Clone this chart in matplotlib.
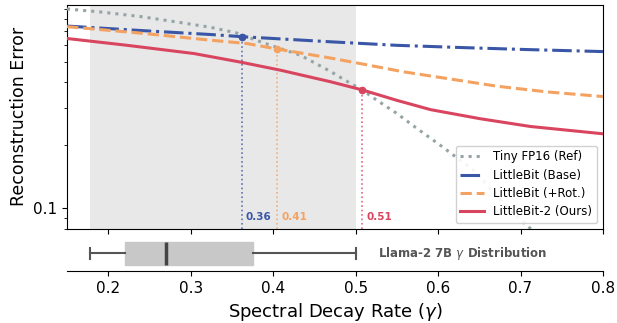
import matplotlib
matplotlib.use("Agg")
import matplotlib.pyplot as plt
from matplotlib.ticker import FuncFormatter, NullFormatter

# ---- data ----
tiny_gamma = [0.15, 0.19, 0.239, 0.285, 0.324, 0.356, 0.388, 0.433, 0.469, 0.494, 0.508,
              0.526, 0.55, 0.573, 0.591, 0.605, 0.643, 0.691, 0.712, 0.75]
tiny_err = [0.897, 0.868, 0.825, 0.775, 0.733, 0.688, 0.618, 0.539, 0.452, 0.395, 0.368,
            0.328, 0.284, 0.243, 0.216, 0.197, 0.152, 0.0946, 0.080, 0.060]

base_gamma = [0.15, 0.243, 0.324, 0.362, 0.469, 0.55, 0.631, 0.712, 0.80]
base_err = [0.743, 0.706, 0.677, 0.661, 0.625, 0.601, 0.586, 0.573, 0.561]

rot_gamma = [0.15, 0.243, 0.324, 0.368, 0.405, 0.469, 0.51, 0.558, 0.611, 0.672, 0.732, 0.80]
rot_err = [0.738, 0.685, 0.636, 0.613, 0.577, 0.523, 0.488, 0.449, 0.417, 0.383, 0.36, 0.342]

ours_gamma = [0.15, 0.223, 0.304, 0.36, 0.409, 0.469, 0.508, 0.55, 0.591, 0.651, 0.712, 0.80]
ours_err = [0.648, 0.601, 0.549, 0.50, 0.457, 0.403, 0.368, 0.328, 0.296, 0.268, 0.246, 0.227]

cross_gamma = [0.362, 0.405, 0.508]
cross_err = [0.661, 0.577, 0.368]
cross_labels = ["0.36", "0.41", "0.51"]

# Llama-2 7B gamma distribution (box stats)
box_stats = dict(whislo=0.178, q1=0.22, med=0.27, q3=0.375, whishi=0.5)

c_gray = "#95a5a6"
c_blue = "#3a56a6"
c_orange = "#f4a261"
c_red = "#d9455f"

fig = plt.figure(figsize=(6.17, 3.23), dpi=100)
ax = fig.add_axes([0.1086, 0.291, 0.9773 - 0.1086, 0.9855 - 0.291])
axb = fig.add_axes([0.1086, 0.161, 0.9773 - 0.1086, 0.105], sharex=ax)

ax.axvspan(box_stats["whislo"], box_stats["whishi"], color="#e8e8e8", zorder=0, lw=0)

lw = 2.2
ax.plot(tiny_gamma, tiny_err, ls=":", color=c_gray, lw=lw, label="Tiny FP16 (Ref)", zorder=3)
ax.plot(base_gamma, base_err, ls="-.", color=c_blue, lw=lw, label="LittleBit (Base)", zorder=4)
ax.plot(rot_gamma, rot_err, ls="--", color=c_orange, lw=lw, label="LittleBit (+Rot.)", zorder=4)
ax.plot(ours_gamma, ours_err, ls="-", color=c_red, lw=lw, label="LittleBit-2 (Ours)", zorder=5)

ax.set_yscale("log")
ax.set_xlim(0.15, 0.8)
ax.set_ylim(0.0796, 0.94)
ax.yaxis.set_major_formatter(FuncFormatter(lambda v, p: f"{v:g}"))
ax.yaxis.set_minor_formatter(NullFormatter())

cols = [c_blue, c_orange, c_red]
for g, e, lab, c in zip(cross_gamma, cross_err, cross_labels, cols):
    ax.plot([g, g], [0.0796, e], ls=":", color=c, lw=1.2, alpha=0.8, zorder=2)
    ax.plot(g, e, "o", color=c, ms=4.5, zorder=6)
    ax.text(g + 0.005, 0.0905, lab, color=c, fontsize=7.5, fontweight="bold",
            ha="left", va="center")

ax.set_ylabel("Reconstruction Error", fontsize=12.5)
ax.tick_params(axis="both", labelsize=11)
ax.tick_params(axis="x", labelbottom=False)
ax.legend(loc="lower right", fontsize=8.5, framealpha=0.9, borderaxespad=0.5,
          handlelength=2.0, labelspacing=0.45)

# lower box axis
axb.bxp([box_stats], vert=False, positions=[0.52], widths=0.68, patch_artist=True,
        showfliers=False,
        boxprops=dict(facecolor="#c8c8c8", edgecolor="#c8c8c8"),
        medianprops=dict(color="#444444", lw=2.5),
        whiskerprops=dict(color="#555555", lw=1.5),
        capprops=dict(color="#555555", lw=1.5))
axb.set_ylim(0, 1)
axb.set_yticks([])
for s in ["left", "right", "top"]:
    axb.spines[s].set_visible(False)
axb.text(0.527, 0.52, "Llama-2 7B $\\gamma$ Distribution", fontsize=8.5, fontweight="bold",
         color="#555555", va="center", ha="left")
axb.set_xlim(0.15, 0.8)
axb.tick_params(axis="x", labelsize=11)
axb.set_xlabel("Spectral Decay Rate ($\\gamma$)", fontsize=13)

fig.savefig("out.png", dpi=100)
